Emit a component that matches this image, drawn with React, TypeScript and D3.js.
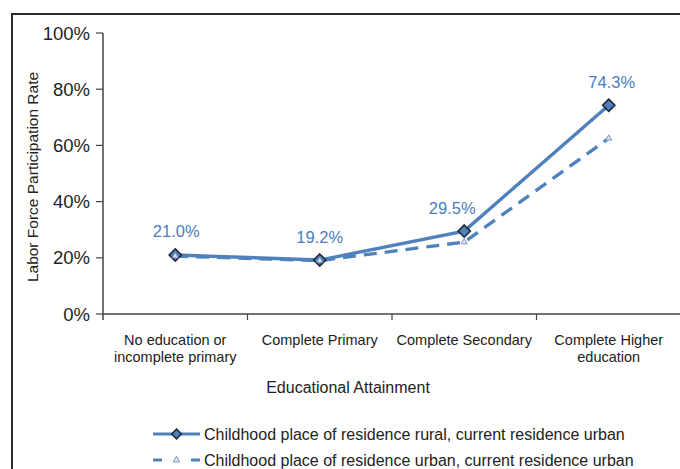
import { useEffect, useRef } from "react";
import * as d3 from "d3";

// categories along the x axis
const categories = [
  ["No education or", "incomplete primary"],
  ["Complete Primary"],
  ["Complete Secondary"],
  ["Complete Higher", "education"],
];

// labor force participation rate (%)
const ruralToUrban = [21.0, 19.2, 29.5, 74.3];
const urbanToUrban = [20.6, 19.0, 25.6, 62.5];

const yTicks = [0, 20, 40, 60, 80, 100];

const seriesNames = [
  "Childhood place of residence rural, current residence urban",
  "Childhood place of residence urban, current residence urban",
];

const BLUE = "#4f81bd";
const LABEL_BLUE = "#4a7ec0";
const DARK = "#2b2b2b";
const FONT = "'Liberation Sans', Arial, Helvetica, sans-serif";

const App = () => {
  const svgRef = useRef<SVGSVGElement>(null);

  useEffect(() => {
    if (!svgRef.current) return;
    const width = 680;
    const height = 469;

    const svg = d3.select(svgRef.current);
    svg.selectAll("*").remove();
    svg.attr("width", width).attr("height", height).style("font-family", FONT);

    // frame (left and top only)
    svg
      .append("path")
      .attr("d", `M12,${height} L12,14 L${width},14`)
      .attr("fill", "none")
      .attr("stroke", DARK)
      .attr("stroke-width", 2);

    const keys = categories.map((c) => c.join(" "));
    const x = d3.scaleBand<string>().domain(keys).range([103, 681]).padding(0);
    const y = d3.scaleLinear().domain([0, 100]).range([314, 33]);
    const cx = (i: number) => (x(keys[i]) ?? 0) + x.bandwidth() / 2;

    // y axis
    const gy = svg.append("g");
    gy.append("line")
      .attr("x1", 103)
      .attr("x2", 103)
      .attr("y1", y(100))
      .attr("y2", y(0) + 6)
      .attr("stroke", "#444")
      .attr("stroke-width", 1.5);
    yTicks.forEach((t) => {
      gy.append("line")
        .attr("x1", 96)
        .attr("x2", 103)
        .attr("y1", y(t))
        .attr("y2", y(t))
        .attr("stroke", "#444")
        .attr("stroke-width", 1.2);
      gy.append("text")
        .attr("x", 90)
        .attr("y", y(t))
        .attr("dy", "0.36em")
        .attr("text-anchor", "end")
        .style("font-size", "18.5px")
        .attr("fill", "#1e1e1e")
        .text(`${t}%`);
    });

    // x axis
    const gx = svg.append("g");
    gx.append("line")
      .attr("x1", 103)
      .attr("x2", 681)
      .attr("y1", y(0))
      .attr("y2", y(0))
      .attr("stroke", "#444")
      .attr("stroke-width", 1.5);
    keys.forEach((k, i) => {
      const x0 = x(k) ?? 0;
      gx.append("line")
        .attr("x1", x0 + x.bandwidth())
        .attr("x2", x0 + x.bandwidth())
        .attr("y1", y(0))
        .attr("y2", y(0) + 6)
        .attr("stroke", "#444")
        .attr("stroke-width", 1.2);
      const t = gx
        .append("text")
        .attr("text-anchor", "middle")
        .style("font-size", "14.5px")
        .attr("fill", "#222");
      categories[i].forEach((line, j) => {
        t.append("tspan")
          .attr("x", cx(i))
          .attr("y", 345 + j * 17)
          .text(line);
      });
    });

    // axis titles
    svg
      .append("text")
      .attr("x", 348)
      .attr("y", 393)
      .attr("text-anchor", "middle")
      .style("font-size", "16px")
      .attr("fill", "#222")
      .text("Educational Attainment");
    svg
      .append("text")
      .attr("transform", `translate(38,177) rotate(-90)`)
      .attr("text-anchor", "middle")
      .style("font-size", "15.5px")
      .attr("fill", "#222")
      .text("Labor Force Participation Rate");

    const line = d3
      .line<number>()
      .x((_, i) => cx(i))
      .y((d) => y(d));

    // dashed series under the solid one
    svg
      .append("path")
      .attr("d", line(urbanToUrban))
      .attr("fill", "none")
      .attr("stroke", BLUE)
      .attr("stroke-width", 3.3)
      .attr("stroke-dasharray", "13 8");

    svg
      .append("path")
      .attr("d", line(ruralToUrban))
      .attr("fill", "none")
      .attr("stroke", BLUE)
      .attr("stroke-width", 3.4);

    const diamond = d3.symbol().type(d3.symbolDiamond2).size(95);
    const tri = d3.symbol().type(d3.symbolTriangle).size(16);

    ruralToUrban.forEach((v, i) => {
      svg
        .append("path")
        .attr("d", diamond())
        .attr("transform", `translate(${cx(i)},${y(v)})`)
        .attr("fill", BLUE)
        .attr("stroke", "#1c2836")
        .attr("stroke-width", 1.6);
    });
    urbanToUrban.forEach((v, i) => {
      svg
        .append("path")
        .attr("d", tri())
        .attr("transform", `translate(${cx(i)},${y(v)})`)
        .attr("fill", "#dfe6f3")
        .attr("stroke", "#7d92c4")
        .attr("stroke-width", 1);
    });

    // value labels
    const shift = [1, 0, -12, 3];
    ruralToUrban.forEach((v, i) => {
      svg
        .append("text")
        .attr("x", cx(i) + shift[i])
        .attr("y", y(v) - 17.5)
        .attr("text-anchor", "middle")
        .style("font-size", "16.5px")
        .attr("fill", LABEL_BLUE)
        .text(`${v.toFixed(1)}%`);
    });

    // legend
    const legendY = [434, 460];
    const lg = svg.append("g");
    lg.append("line")
      .attr("x1", 153)
      .attr("x2", 200)
      .attr("y1", legendY[0])
      .attr("y2", legendY[0])
      .attr("stroke", BLUE)
      .attr("stroke-width", 3);
    lg.append("path")
      .attr("d", d3.symbol().type(d3.symbolDiamond2).size(60)())
      .attr("transform", `translate(176.5,${legendY[0]})`)
      .attr("fill", BLUE)
      .attr("stroke", "#1c2836")
      .attr("stroke-width", 1.5);
    lg.append("line")
      .attr("x1", 153)
      .attr("x2", 200)
      .attr("y1", legendY[1])
      .attr("y2", legendY[1])
      .attr("stroke", BLUE)
      .attr("stroke-width", 3)
      .attr("stroke-dasharray", "9 29 9");
    lg.append("path")
      .attr("d", d3.symbol().type(d3.symbolTriangle).size(18)())
      .attr("transform", `translate(176.5,${legendY[1]})`)
      .attr("fill", "#dfe6f3")
      .attr("stroke", "#7d92c4")
      .attr("stroke-width", 1);
    seriesNames.forEach((n, i) => {
      lg.append("text")
        .attr("x", 204)
        .attr("y", legendY[i])
        .attr("dy", "0.36em")
        .style("font-size", "16px")
        .attr("fill", "#222")
        .text(n);
    });
  }, []);

  return (
    <div style={{ position: "fixed", left: 0, top: 0, background: "#fff" }}>
      <svg ref={svgRef} style={{ display: "block" }}></svg>
    </div>
  );
};

export default App;
